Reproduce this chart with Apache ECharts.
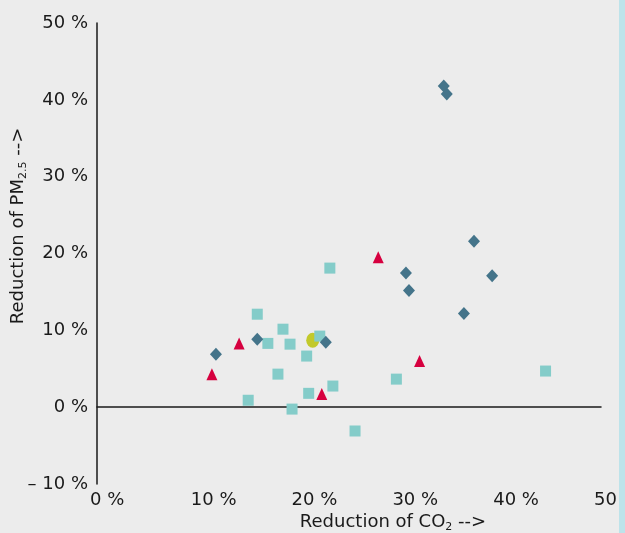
<!DOCTYPE html>
<html>
<head>
<meta charset="utf-8">
<script src="https://cdn.jsdelivr.net/npm/echarts@6/dist/echarts.min.js"></script>
<style>
html,body{margin:0;padding:0;background:#ececec;}
#c{width:625px;height:533px;}
</style>
</head>
<body>
<div id="c"></div>
<script>
// Data: [CO2 reduction %, PM2.5 reduction %]
var diamonds = [
  [15.9, 8.85], [11.8, 6.9], [22.7, 8.45], [30.65, 17.45], [30.95, 15.2],
  [37.4, 21.6], [39.2, 17.1], [36.4, 12.2], [34.4, 41.8], [34.7, 40.75]
];
var triangles = [
  [14.1, 8.3], [11.4, 4.3], [22.3, 1.7], [27.9, 19.5], [32.0, 6.0]
];
var squares = [
  [15.9, 12.1], [18.45, 10.15], [16.95, 8.3], [19.15, 8.2], [22.1, 9.25],
  [20.8, 6.65], [17.95, 4.3], [23.4, 2.75], [21.0, 1.8], [15.0, 0.9],
  [19.35, -0.25], [25.6, -3.1], [23.1, 18.1], [29.7, 3.65], [44.5, 4.7]
];
var circles = [
  [21.4, 8.7]
];
var xTicks = [0, 10, 20, 30, 40, 50];
var yTicks = [-10, 0, 10, 20, 30, 40, 50];

var FONT = 'DejaVu Sans';
var chart = echarts.init(document.getElementById('c'));
chart.setOption({
  backgroundColor: '#ececec',
  animation: false,
  grid: {left: 97, right: 24, top: 23, bottom: 49, containLabel: false, outerBoundsMode: 'none'},
  xAxis: {
    type: 'value', min: xTicks[0], max: xTicks[xTicks.length - 1], interval: 10,
    axisLine: {show: true, onZero: true, lineStyle: {color: '#1a1a1a', width: 1.5}},
    axisTick: {show: false},
    splitLine: {show: false},
    axisLabel: {
      color: '#1a1a1a', fontFamily: FONT, fontSize: 18, margin: 7,
      align: 'left', padding: [0, 0, 0, -7],
      formatter: function (v) { return v + ' %'; }
    }
  },
  yAxis: {
    type: 'value', min: yTicks[0], max: yTicks[yTicks.length - 1], interval: 10,
    axisLine: {show: true, onZero: false, lineStyle: {color: '#1a1a1a', width: 1.5}},
    axisTick: {show: false},
    splitLine: {show: false},
    axisLabel: {
      color: '#1a1a1a', fontFamily: FONT, fontSize: 18, margin: 9,
      formatter: function (v) { return v < 0 ? '\u2013 ' + Math.abs(v) + ' %' : v + ' %'; }
    }
  },
  series: [
    {type: 'scatter', data: squares, symbol: 'rect', symbolSize: 11,
     itemStyle: {color: '#84ccc9', opacity: 1}},
    {type: 'scatter', data: diamonds, symbol: 'diamond', symbolSize: [12, 13],
     itemStyle: {color: '#44748a', opacity: 1}},
    {type: 'scatter', data: triangles, symbol: 'triangle', symbolSize: [11, 12],
     itemStyle: {color: '#d6003f', opacity: 1}},
    {type: 'scatter', data: circles, symbol: 'circle', symbolSize: [13, 15], z: 1,
     itemStyle: {color: '#c2c92b', opacity: 1}}
  ],
  graphic: [
    {type: 'rect', shape: {x: 619, y: 0, width: 6, height: 533}, z: 100,
     style: {fill: '#bde3ea'}},
    {type: 'text', x: 393, y: 522, z: 50,
     style: {
       text: 'Reduction of CO{sub|2} -->', fontFamily: FONT, fontSize: 18, fill: '#1a1a1a',
       align: 'center', verticalAlign: 'middle',
       rich: {sub: {fontSize: 11, fontFamily: FONT, fill: '#1a1a1a', padding: [10, 0, 0, 0]}}
     }},
    {type: 'text', x: 18, y: 226, rotation: Math.PI / 2, z: 50,
     style: {
       text: 'Reduction of PM{sub|2.5} -->', fontFamily: FONT, fontSize: 18, fill: '#1a1a1a',
       align: 'center', verticalAlign: 'middle',
       rich: {sub: {fontSize: 11, fontFamily: FONT, fill: '#1a1a1a', padding: [10, 0, 0, 0]}}
     }}
  ]
});
</script>
</body>
</html>
